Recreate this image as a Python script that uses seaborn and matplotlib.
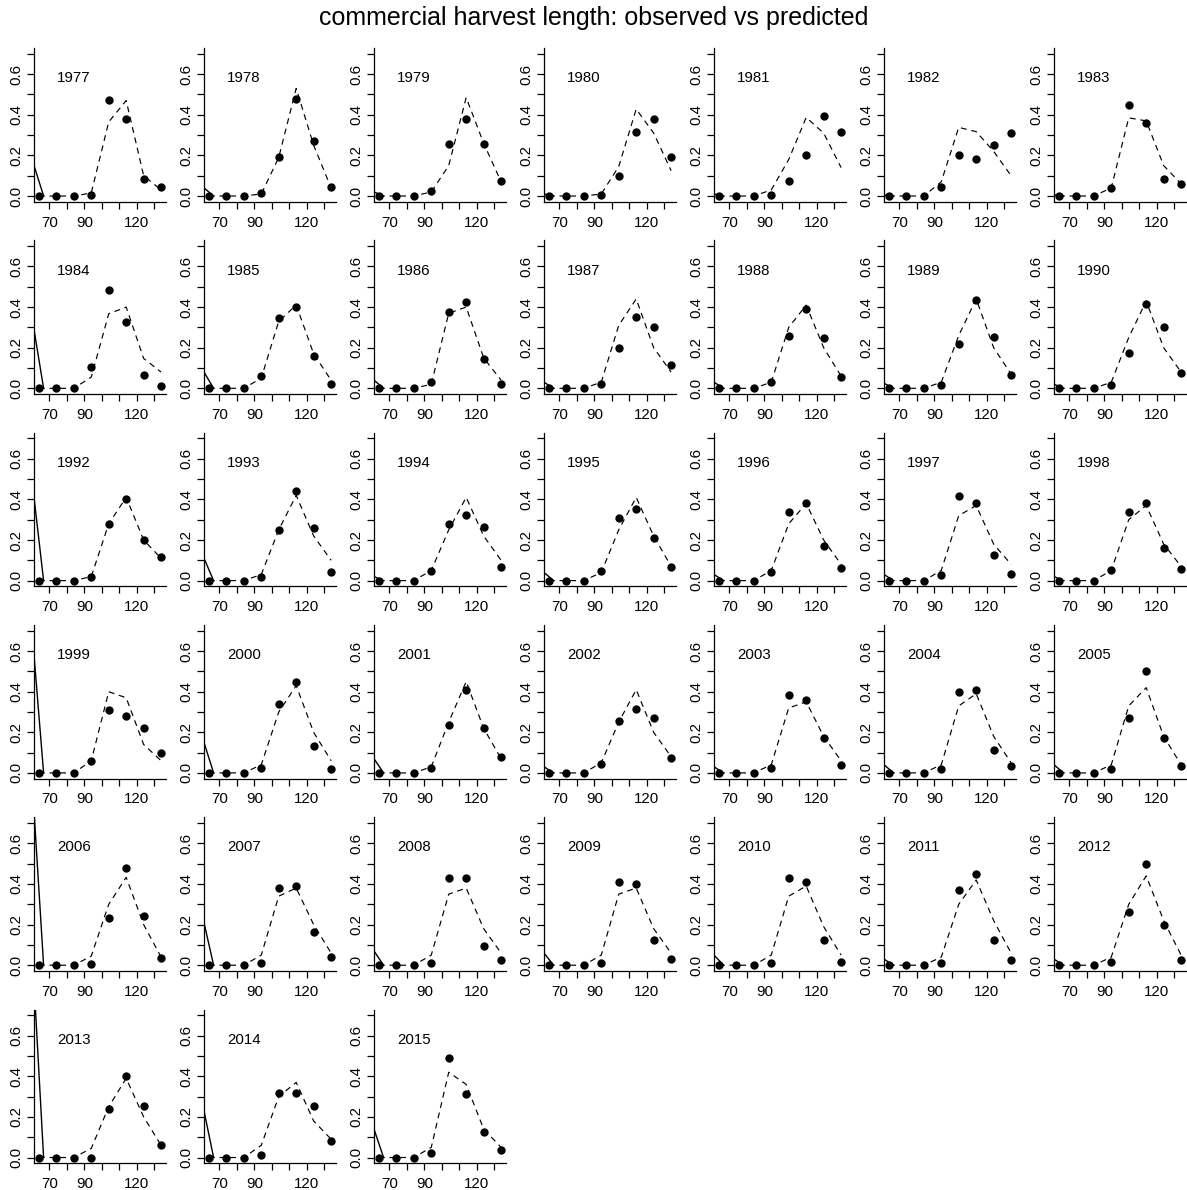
import matplotlib
matplotlib.use("Agg")
import matplotlib.pyplot as plt
import seaborn as sns
import pandas as pd

# ---------------- data ----------------
years = [1977, 1978, 1979, 1980, 1981, 1982, 1983,
         1984, 1985, 1986, 1987, 1988, 1989, 1990,
         1992, 1993, 1994, 1995, 1996, 1997, 1998,
         1999, 2000, 2001, 2002, 2003, 2004, 2005,
         2006, 2007, 2008, 2009, 2010, 2011, 2012,
         2013, 2014, 2015]

lengths = [64, 74, 84, 94, 104, 114, 124, 134]

observed = [
    [0, 0, 0, 0.005, 0.475, 0.38, 0.082, 0.044],   # 1977
    [0, 0, 0, 0.013, 0.19, 0.48, 0.27, 0.046],     # 1978
    [0, 0, 0, 0.026, 0.254, 0.38, 0.254, 0.074],   # 1979
    [0, 0, 0, 0.005, 0.10, 0.315, 0.38, 0.19],     # 1980
    [0, 0, 0, 0.005, 0.074, 0.20, 0.393, 0.315],   # 1981
    [0, 0, 0, 0.046, 0.20, 0.184, 0.25, 0.31],     # 1982
    [0, 0, 0, 0.04, 0.45, 0.362, 0.082, 0.059],    # 1983
    [0, 0, 0, 0.106, 0.483, 0.326, 0.068, 0.01],   # 1984
    [0, 0, 0, 0.062, 0.346, 0.40, 0.16, 0.02],     # 1985
    [0, 0, 0, 0.03, 0.375, 0.427, 0.142, 0.02],    # 1986
    [0, 0, 0, 0.02, 0.20, 0.35, 0.30, 0.117],      # 1987
    [0, 0, 0, 0.03, 0.26, 0.39, 0.25, 0.057],      # 1988
    [0, 0, 0, 0.015, 0.22, 0.435, 0.255, 0.068],   # 1989
    [0, 0, 0, 0.015, 0.176, 0.416, 0.303, 0.077],  # 1990
    [0, 0, 0, 0.02, 0.28, 0.40, 0.20, 0.115],      # 1992
    [0, 0, 0, 0.02, 0.25, 0.44, 0.26, 0.04],       # 1993
    [0, 0, 0, 0.045, 0.28, 0.325, 0.265, 0.065],   # 1994
    [0, 0, 0, 0.045, 0.31, 0.355, 0.21, 0.065],    # 1995
    [0, 0, 0, 0.04, 0.34, 0.38, 0.17, 0.06],       # 1996
    [0, 0, 0, 0.03, 0.415, 0.38, 0.125, 0.035],    # 1997
    [0, 0, 0, 0.05, 0.34, 0.38, 0.16, 0.055],      # 1998
    [0, 0, 0, 0.06, 0.31, 0.28, 0.22, 0.10],       # 1999
    [0, 0, 0, 0.025, 0.34, 0.45, 0.135, 0.02],     # 2000
    [0, 0, 0, 0.025, 0.235, 0.41, 0.22, 0.08],     # 2001
    [0, 0, 0, 0.045, 0.255, 0.315, 0.27, 0.075],   # 2002
    [0, 0, 0, 0.025, 0.385, 0.36, 0.17, 0.04],     # 2003
    [0, 0, 0, 0.02, 0.40, 0.41, 0.115, 0.035],     # 2004
    [0, 0, 0, 0.02, 0.27, 0.50, 0.17, 0.035],      # 2005
    [0, 0, 0, 0.005, 0.232, 0.48, 0.243, 0.035],   # 2006
    [0, 0, 0, 0.01, 0.38, 0.39, 0.165, 0.04],      # 2007
    [0, 0, 0, 0.01, 0.43, 0.43, 0.095, 0.025],     # 2008
    [0, 0, 0, 0.01, 0.41, 0.40, 0.125, 0.03],      # 2009
    [0, 0, 0, 0.01, 0.43, 0.41, 0.125, 0.015],     # 2010
    [0, 0, 0, 0.01, 0.37, 0.45, 0.125, 0.025],     # 2011
    [0, 0, 0, 0.015, 0.26, 0.50, 0.20, 0.025],     # 2012
    [0, 0, 0, 0.0, 0.24, 0.40, 0.255, 0.06],       # 2013
    [0, 0, 0, 0.01, 0.32, 0.32, 0.255, 0.08],      # 2014
    [0, 0, 0, 0.02, 0.49, 0.315, 0.125, 0.035],    # 2015
]

predicted = [
    [0, 0, 0, 0.015, 0.365, 0.47, 0.10, 0.03],     # 1977
    [0, 0, 0, 0.01, 0.19, 0.53, 0.25, 0.04],       # 1978
    [0, 0, 0, 0.02, 0.15, 0.485, 0.26, 0.07],      # 1979
    [0, 0, 0, 0.01, 0.145, 0.428, 0.31, 0.125],    # 1980
    [0, 0, 0, 0.03, 0.18, 0.387, 0.31, 0.14],      # 1981
    [0, 0, 0, 0.07, 0.338, 0.317, 0.22, 0.10],     # 1982
    [0, 0, 0, 0.04, 0.385, 0.37, 0.15, 0.06],      # 1983
    [0, 0, 0, 0.055, 0.367, 0.40, 0.147, 0.08],    # 1984
    [0, 0, 0, 0.05, 0.33, 0.41, 0.17, 0.04],       # 1985
    [0, 0, 0, 0.02, 0.37, 0.40, 0.15, 0.04],       # 1986
    [0, 0, 0, 0.03, 0.31, 0.44, 0.20, 0.08],       # 1987
    [0, 0, 0, 0.03, 0.30, 0.41, 0.20, 0.06],       # 1988
    [0, 0, 0, 0.03, 0.26, 0.44, 0.20, 0.07],       # 1989
    [0, 0, 0, 0.03, 0.25, 0.43, 0.20, 0.08],       # 1990
    [0, 0, 0, 0.02, 0.28, 0.41, 0.20, 0.11],       # 1992
    [0, 0, 0, 0.03, 0.25, 0.42, 0.22, 0.10],       # 1993
    [0, 0, 0, 0.05, 0.25, 0.41, 0.22, 0.10],       # 1994
    [0, 0, 0, 0.04, 0.25, 0.41, 0.22, 0.07],       # 1995
    [0, 0, 0, 0.05, 0.28, 0.38, 0.20, 0.08],       # 1996
    [0, 0, 0, 0.05, 0.32, 0.37, 0.18, 0.08],       # 1997
    [0, 0, 0, 0.05, 0.30, 0.37, 0.18, 0.07],       # 1998
    [0, 0, 0, 0.06, 0.40, 0.37, 0.14, 0.06],       # 1999
    [0, 0, 0, 0.04, 0.30, 0.43, 0.20, 0.06],       # 2000
    [0, 0, 0, 0.03, 0.25, 0.45, 0.22, 0.07],       # 2001
    [0, 0, 0, 0.05, 0.25, 0.41, 0.20, 0.08],       # 2002
    [0, 0, 0, 0.04, 0.32, 0.35, 0.18, 0.06],       # 2003
    [0, 0, 0, 0.04, 0.33, 0.39, 0.18, 0.05],       # 2004
    [0, 0, 0, 0.04, 0.33, 0.42, 0.18, 0.04],       # 2005
    [0, 0, 0, 0.045, 0.30, 0.433, 0.20, 0.04],     # 2006
    [0, 0, 0, 0.05, 0.34, 0.38, 0.20, 0.06],       # 2007
    [0, 0, 0, 0.05, 0.35, 0.38, 0.18, 0.06],       # 2008
    [0, 0, 0, 0.05, 0.35, 0.38, 0.18, 0.06],       # 2009
    [0, 0, 0, 0.05, 0.34, 0.39, 0.19, 0.05],       # 2010
    [0, 0, 0, 0.04, 0.30, 0.42, 0.22, 0.06],       # 2011
    [0, 0, 0, 0.04, 0.30, 0.44, 0.22, 0.05],       # 2012
    [0, 0, 0, 0.045, 0.25, 0.39, 0.20, 0.06],      # 2013
    [0, 0, 0, 0.06, 0.30, 0.37, 0.18, 0.09],       # 2014
    [0, 0, 0, 0.05, 0.42, 0.36, 0.14, 0.05],       # 2015
]

# solid line: from the left edge value down to zero near the first bin
solid_x = [61.2, 66.7]
solid_start = [0.15, 0.04, 0.02, 0.01, 0.01, 0.005, 0.005,
               0.29, 0.08, 0.04, 0.03, 0.03, 0.025, 0.02,
               0.41, 0.11, 0.02, 0.04, 0.03, 0.03, 0.02,
               0.58, 0.15, 0.07, 0.03, 0.03, 0.04, 0.04,
               0.76, 0.21, 0.07, 0.06, 0.05, 0.03, 0.03,
               0.86, 0.23, 0.14]

x_ticks = [70, 80, 90, 100, 110, 120, 130]
x_labels = ["70", "", "90", "", "", "120", ""]
y_ticks = [0.0, 0.1, 0.2, 0.3, 0.4, 0.5, 0.6, 0.7]
y_labels = ["0.0", "", "0.2", "", "0.4", "", "0.6", ""]
title = "commercial harvest length: observed vs predicted"

# ---------------- style ----------------
sns.set_style("ticks")
plt.rcParams["font.family"] = ["Liberation Sans", "DejaVu Sans"]

W, H = 1187, 1190
fig = plt.figure(figsize=(W / 100, H / 100), dpi=100)

ncol = 7
ax_w, ax_h = 132, 153.5
for i, yr in enumerate(years):
    r, c = divmod(i, ncol)
    left_px = 34 + 170 * c
    zero_px = 196 + 192.3 * r
    bottom_px = zero_px + 5.7
    ax = fig.add_axes([left_px / W, 1 - bottom_px / H, ax_w / W, ax_h / H])

    d = pd.DataFrame({"length": lengths, "obs": observed[i], "pred": predicted[i]})
    s = pd.DataFrame({"x": solid_x, "y": [solid_start[i], 0.0]})

    sns.lineplot(data=s, x="x", y="y", ax=ax, color="black", lw=1.0,
                 estimator=None, sort=False)
    sns.lineplot(data=d, x="length", y="pred", ax=ax, color="black", lw=0.85,
                 estimator=None, linestyle=(0, (5.0, 4.0)))
    sns.scatterplot(data=d, x="length", y="obs", ax=ax, color="black", s=36,
                    edgecolor="black", linewidth=0, zorder=3)

    ax.set_xlim(61.2, 136.8)
    ax.set_ylim(-0.028, 0.728)
    ax.set_xticks(x_ticks)
    ax.set_xticklabels(x_labels)
    ax.set_yticks(y_ticks)
    ax.set_yticklabels(y_labels, rotation=90, va="center")
    ax.tick_params(axis="both", direction="out", length=5, width=0.9,
                   labelsize=10.8, color="black", labelcolor="black")
    ax.tick_params(axis="x", pad=5)
    ax.tick_params(axis="y", pad=3)
    ax.set_xlabel("")
    ax.set_ylabel("")
    for side in ["top", "right"]:
        ax.spines[side].set_visible(False)
    for side in ["left", "bottom"]:
        ax.spines[side].set_color("black")
        ax.spines[side].set_linewidth(0.9)
    ax.text(84, 0.58, str(yr), ha="center", va="center", fontsize=10.8,
            color="black")
    ax.patch.set_alpha(0)

fig.text(0.5, 1 - 18 / H, title, ha="center", va="center", fontsize=18,
         color="black")

fig.savefig("out.png", dpi=100, facecolor="white")
